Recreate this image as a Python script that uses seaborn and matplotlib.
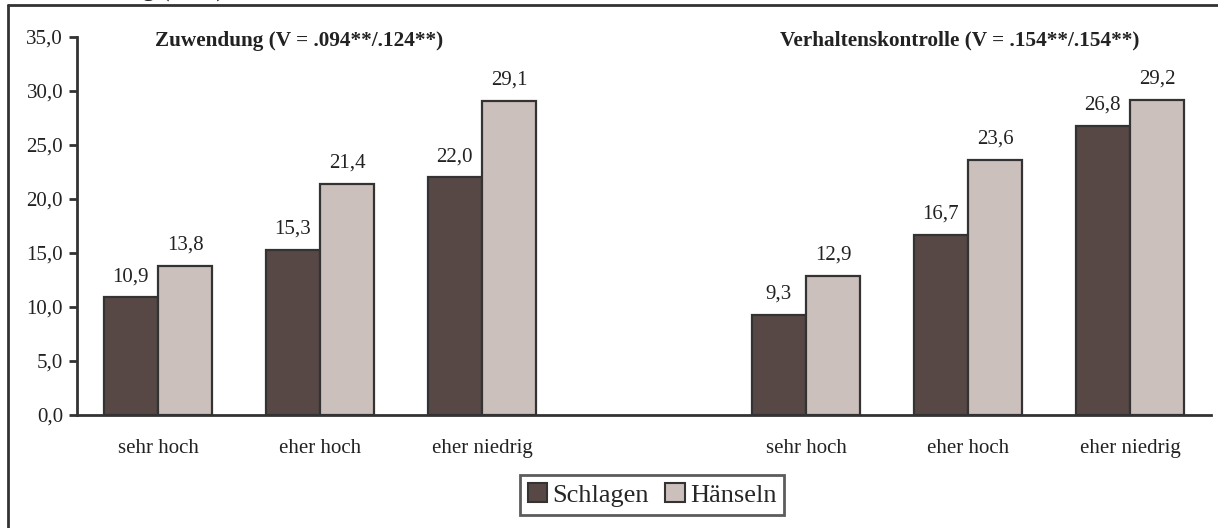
import pandas as pd
import matplotlib
matplotlib.use("Agg")
import matplotlib.pyplot as plt
import seaborn as sns
from matplotlib.lines import Line2D

# Data
groups = ["Z_sehr", "Z_eher_hoch", "Z_eher_niedrig", "gap", "V_sehr", "V_eher_hoch", "V_eher_niedrig"]
tick_labels = ["sehr hoch", "eher hoch", "eher niedrig", "", "sehr hoch", "eher hoch", "eher niedrig"]
bar_groups = ["Z_sehr", "Z_eher_hoch", "Z_eher_niedrig", "V_sehr", "V_eher_hoch", "V_eher_niedrig"]
schlagen = [10.9, 15.3, 22.0, 9.3, 16.7, 26.8]
haenseln = [13.8, 21.4, 29.1, 12.9, 23.6, 29.2]
series = ["Schlagen", "Hänseln"]
colors = ["#574845", "#ccc0bc"]
titles = ["Zuwendung (V = .094**/.124**)", "Verhaltenskontrolle (V = .154**/.154**)"]

df = pd.DataFrame({
    "group": bar_groups * 2,
    "art": [series[0]] * len(bar_groups) + [series[1]] * len(bar_groups),
    "wert": schlagen + haenseln,
})

sns.set_style("white")
plt.rcParams['font.family'] = ['Liberation Serif', 'DejaVu Serif']

fig = plt.figure(figsize=(12.18, 5.28), dpi=100)
ax = fig.add_axes([77 / 1218, 1 - 415 / 528, (1211 - 77) / 1218, (415 - 37) / 528])

sns.barplot(data=df, x="group", y="wert", hue="art", order=groups, hue_order=series,
            palette=colors, width=0.67, edgecolor="#333333", linewidth=1.6,
            saturation=1, legend=False, ax=ax)

for cont in ax.containers:
    ax.bar_label(cont, labels=[f"{v:.1f}".replace(".", ",") for v in cont.datavalues],
                 padding=8, fontsize=15, color="#222222")

ax.set_ylim(0, 35)
ax.set_xlim(-0.5, len(groups) - 0.5)
ax.set_yticks(range(0, 36, 5))
ax.set_yticklabels([f"{v},0" for v in range(0, 36, 5)], fontsize=15, color="#222222")
ax.set_xticks(range(len(groups)))
ax.set_xticklabels(tick_labels, fontsize=15, color="#222222")
ax.tick_params(axis="x", which="major", length=0, pad=17)
ax.set_xticks([i - 0.5 for i in range(len(groups) + 1)], minor=True)
ax.tick_params(axis="x", which="minor", length=7, width=2, color="#333333", direction="out")
ax.tick_params(axis="y", length=6, width=2, color="#333333", direction="out", pad=4, left=True)
ax.set_xlabel("")
ax.set_ylabel("")
for s in ["top", "right"]:
    ax.spines[s].set_visible(False)
for s in ["left", "bottom"]:
    ax.spines[s].set_color("#333333")
    ax.spines[s].set_linewidth(2)

ax.text(0.069, 0.99, titles[0], transform=ax.transAxes, fontsize=15.3, fontweight="bold",
        ha="left", va="center", color="#222222")
ax.text(0.937, 0.99, titles[1], transform=ax.transAxes, fontsize=15.3, fontweight="bold",
        ha="right", va="center", color="#222222")

# header line above the frame, mostly cut off at the top edge
fig.text(225 / 1218, 1 + 3 / 528, "Viktimisierung (in %)", fontsize=18, ha="right",
         va="baseline", color="#222222")

handles = [plt.Rectangle((0, 0), 1, 1, facecolor=c, edgecolor="#333333", linewidth=1.5) for c in colors]
leg = fig.legend(handles, series, loc="center", bbox_to_anchor=(652 / 1218, 1 - 495 / 528),
                 ncol=2, fontsize=19, frameon=True, fancybox=False, handlelength=0.75,
                 handleheight=0.75, handletextpad=0.2, columnspacing=0.6, borderpad=0.3)
leg.get_frame().set_edgecolor("#333333")
leg.get_frame().set_linewidth(2)

# outer frame (top and left edges visible)
fig.add_artist(Line2D([8 / 1218, 8 / 1218], [0, 1 - 5 / 528], color="#333333", linewidth=2,
                      transform=fig.transFigure))
fig.add_artist(Line2D([8 / 1218, 1], [1 - 5 / 528, 1 - 5 / 528], color="#333333", linewidth=2,
                      transform=fig.transFigure))

fig.savefig("out.png", dpi=100)
